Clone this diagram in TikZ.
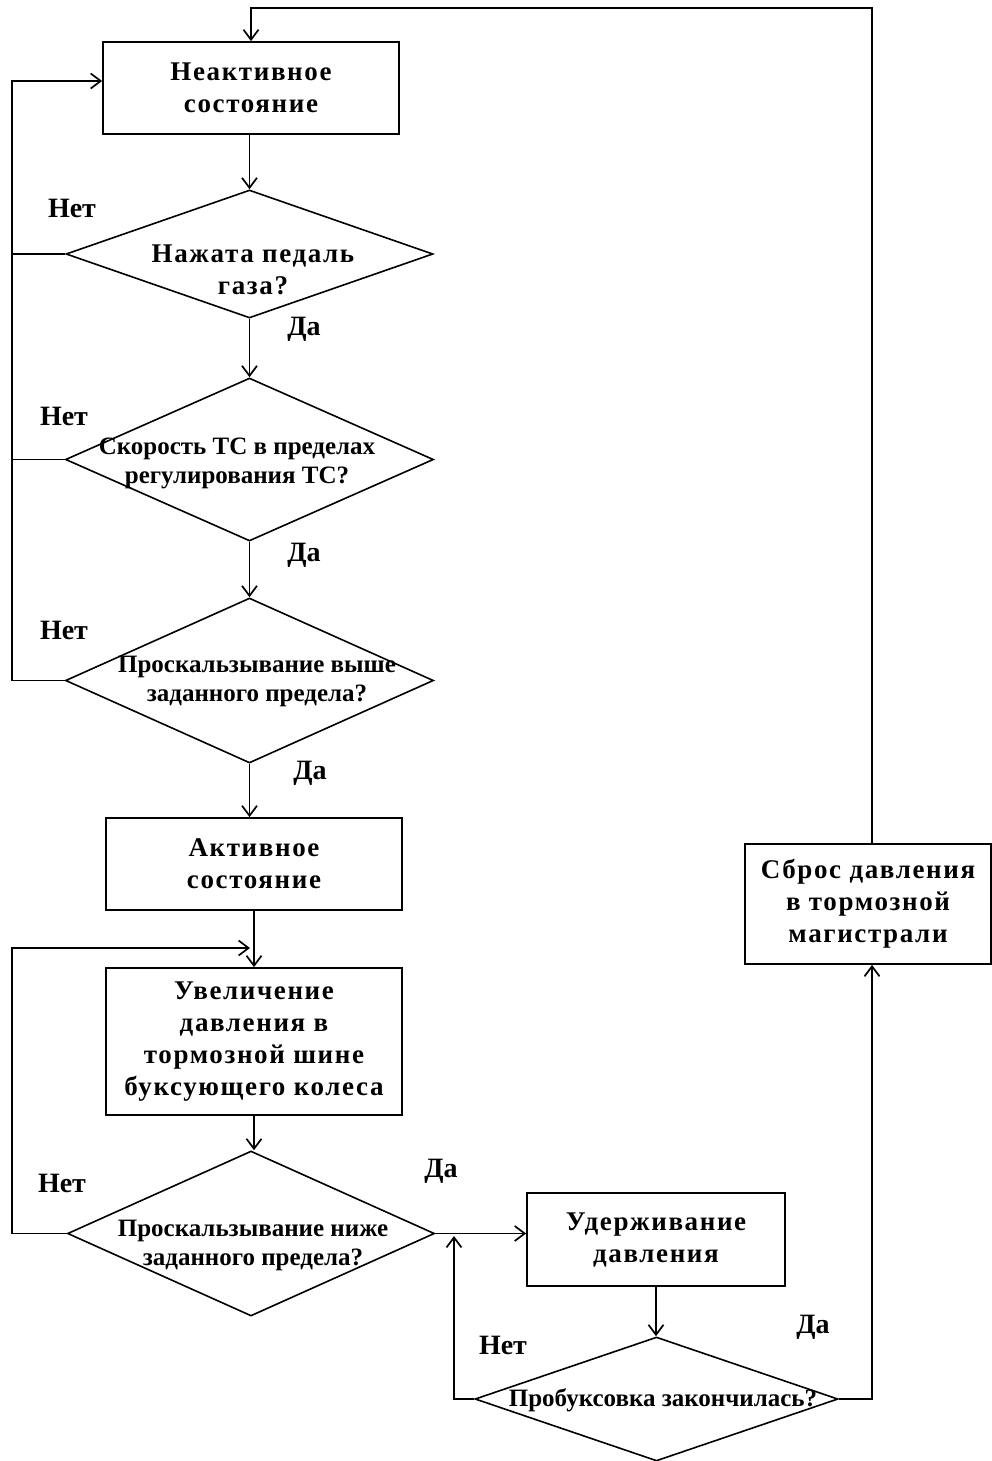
\documentclass[tikz,border=0pt]{standalone}
\usepackage{fontspec}
\setmainfont{Liberation Serif}
\newfontfamily\wideserif[LetterSpace=6]{Liberation Serif}
\usetikzlibrary{shapes.geometric,arrows.meta,calc}
\begin{document}
\begin{tikzpicture}[x=1pt,y=-1pt,
  box/.style={draw=black, line width=1.8pt, rectangle, inner sep=0pt, align=center,
    font=\wideserif\bfseries\fontsize{27}{32}\selectfont},
  dec/.style={draw=black, diamond, inner sep=0pt, line width=1.6pt},
  bigtxt/.style={inner sep=0pt, align=center, font=\wideserif\bfseries\fontsize{27}{32}\selectfont},
  smalltxt/.style={inner sep=0pt, align=center, font=\bfseries\fontsize{25}{29}\selectfont},
  lbl/.style={inner sep=0pt, font=\bfseries\fontsize{28}{30}\selectfont},
  conn/.style={draw=black, line width=1.7pt},
  arr/.style={conn, -{Straight Barb[length=10pt,width=15pt,line width=1.7pt]}}
]
\useasboundingbox (0,0) rectangle (992,1461);

% process boxes
\node[box, minimum width=296pt, minimum height=92pt] (b1) at (251,88) {Неактивное\\состояние};
\node[box, minimum width=296pt, minimum height=92pt] (b2) at (254,864) {Активное\\состояние};
\node[box, minimum width=296pt, minimum height=147pt] (b3) at (254,1041.5)
  {Увеличение\\давления в\\тормозной шине\\буксующего колеса};
\node[box, minimum width=258pt, minimum height=93pt] (b4) at (656,1239.5) {Удерживание\\давления};
\node[box, minimum width=246pt, minimum height=120pt] (b5) at (868,904)
  {Сброс давления\\в тормозной\\магистрали};

% decisions
\node[dec, minimum width=367pt, minimum height=128pt] (d1) at (249.5,254) {};
\node[dec, minimum width=368pt, minimum height=163pt] (d2) at (249.5,459.5) {};
\node[dec, minimum width=368pt, minimum height=165pt] (d3) at (249.5,680.5) {};
\node[dec, minimum width=367pt, minimum height=165pt] (d4) at (251,1233.5) {};
\node[dec, minimum width=363pt, minimum height=124pt] (d5) at (656.5,1399) {};

\node[bigtxt] (d1t) at (253,270) {Нажата педаль\\газа?};
\node[smalltxt] (d2t) at (237,463) {Скорость ТС в пределах\\регулирования ТС?};
\node[smalltxt] (d3t) at (257,681) {Проскальзывание выше\\заданного предела?};
\node[smalltxt] (d4t) at (253,1245) {Проскальзывание ниже\\заданного предела?};
\node[smalltxt] (d5t) at (663,1400) {Пробуксовка закончилась?};

% labels
\node[lbl] (n1) at (72,208) {Нет};
\node[lbl] (y1) at (304,329) {Да};
\node[lbl] (n2) at (64,416) {Нет};
\node[lbl] (y2) at (304,555) {Да};
\node[lbl] (n3) at (64,630) {Нет};
\node[lbl] (y3) at (310,773) {Да};
\node[lbl] (n4) at (62,1183) {Нет};
\node[lbl] (y4) at (441,1171) {Да};
\node[lbl] (n5) at (503,1345) {Нет};
\node[lbl] (y5) at (813,1327) {Да};

% helper coordinates
\coordinate (top) at (0,8);
\coordinate (lx) at (12,0);
\coordinate (lx2) at (454,0);

% main flow
\draw[arr] (b1.south -| d1.north) -- (d1.north);
\draw[arr] (d1.south) -- (d2.north);
\draw[arr] (d2.south) -- (d3.north);
\draw[arr] (d3.south) -- (d3.south |- b2.north);
\draw[arr] (b2.south) -- (b3.north);
\draw[arr] (b3.south) -- (d4.north -| b3.south);
\draw[arr] (b4.south) -- (d5.north -| b4.south);
\draw[arr] (d4.east) -- (d4.east -| b4.west);

% "no" loops
\draw[conn] (d1.west) -- (d1.west -| lx);
\draw[conn] (d2.west) -- (d2.west -| lx);
\draw[arr] (d3.west) -- (d3.west -| lx) -- (lx |- 0,81) -- (b1.west |- 0,81);
\draw[arr] (d4.west) -- (d4.west -| lx) -- (lx |- 0,948) -- (250,948);
\draw[arr] (d5.west) -- (d5.west -| lx2) -- (lx2 |- 0,1236);

% "yes" to reset and back
\draw[arr] (d5.east) -- (872,1399) -- (872,0 |- b5.south);
\draw[arr] (872,0 |- b5.north) -- (872,0 |- top) -- (b1.north |- top) -- (b1.north);
\end{tikzpicture}
\end{document}
